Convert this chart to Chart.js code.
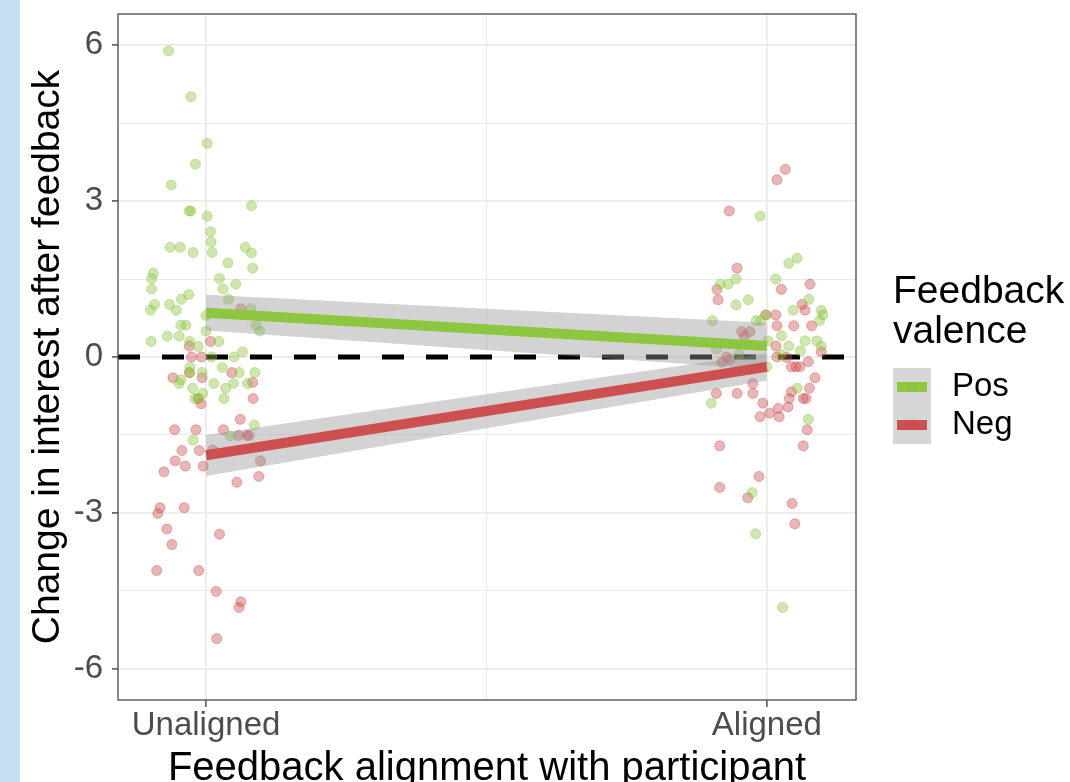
<!DOCTYPE html>
<html><head><meta charset="utf-8">
<script src="https://cdn.jsdelivr.net/npm/chart.js@4.4.1/dist/chart.umd.min.js"></script>
<style>
html,body{margin:0;padding:0;background:#fff;overflow:hidden;width:1070px;height:782px;}
#strip{position:absolute;left:0;top:0;width:20px;height:782px;background:#c5dff3;}
#c{position:absolute;left:0;top:0;}
</style></head><body>
<div id="strip"></div>
<canvas id="c" width="1070" height="782"></canvas>
<script>
// ---------- data ----------
const categories = ['Unaligned', 'Aligned'];
const seriesNames = ['Pos', 'Neg'];
const legendTitle = ['Feedback', 'valence'];
const xTitle = 'Feedback alignment with participant';
const yTitle = 'Change in interest after feedback';
const yMajorTicks = [-6, -3, 0, 3, 6];
const yMinorTicks = [-4.5, -1.5, 1.5, 4.5];
const xMinorTicks = [1.5];

// Unaligned, positive feedback
const posUnalignedY = [5.89,5.01,4.11,3.71,3.31,2.81,2.81,2.91,2.71,2.41,2.21,2.01,2.11,2.11,2.01,2.11,2.00,1.71,1.81,1.61,1.51,1.31,1.51,1.31,1.40,1.11,1.20,1.11,1.01,0.90,1.01,0.90,0.80,0.93,0.61,0.50,0.61,0.61,0.50,0.30,0.40,0.40,0.30,0.20,0.30,0.10,0.00,0.00,-0.20,-0.30,-0.30,-0.20,-0.30,-0.30,-0.51,-0.44,-0.51,-0.51,-0.51,-0.60,-0.60,-0.70,-0.80,-0.80,-0.80,-1.31,-1.52,-1.60];
const posUnalignedJitter = [-0.067,-0.027,0.002,-0.019,-0.062,-0.030,-0.027,0.081,0.002,0.008,0.009,0.011,-0.064,-0.046,-0.023,0.070,0.081,0.083,0.039,-0.094,-0.097,-0.097,0.024,0.030,0.053,0.040,-0.031,-0.044,-0.092,-0.099,-0.065,-0.053,0.000,0.080,0.089,0.096,-0.045,-0.036,0.000,-0.098,-0.069,-0.048,-0.029,-0.014,0.023,0.065,0.050,0.010,0.029,0.059,0.087,-0.029,-0.029,-0.007,-0.048,-0.045,0.014,0.049,0.074,-0.024,0.035,-0.006,-0.020,-0.014,0.032,0.086,0.043,-0.023];

// Unaligned, negative feedback
const negUnalignedY = [0.93,0.30,0.21,0.00,0.00,-0.30,-0.40,-0.40,-0.30,-0.49,-0.80,-0.80,-0.90,-1.20,-1.40,-1.40,-1.40,-1.51,-1.51,-1.51,-1.80,-1.80,-1.79,-2.00,-2.10,-2.10,-2.21,-2.00,-2.41,-2.30,-2.90,-3.01,-2.90,-3.31,-3.61,-3.41,-4.11,-4.11,-4.51,-4.71,-4.82,-5.42];
const negUnalignedJitter = [0.062,0.008,-0.030,-0.026,-0.008,-0.030,-0.059,-0.007,0.046,0.083,0.084,-0.014,-0.009,0.061,-0.056,-0.018,0.031,0.058,0.073,0.077,-0.043,-0.012,0.012,-0.055,-0.037,-0.005,-0.075,0.097,0.055,0.094,-0.082,-0.086,-0.039,-0.070,-0.061,0.024,-0.088,-0.013,0.018,0.062,0.059,0.019];

// Aligned, positive feedback
const posAlignedY = [2.71,1.80,1.90,1.50,1.40,1.40,1.50,1.00,1.10,0.70,0.70,0.70,1.11,0.90,0.90,0.81,0.70,0.41,0.31,0.31,0.21,0.31,0.21,0.81,-0.19,-0.89,-0.60,-1.20,-2.61,-3.40,-4.82,0.15,0.05,0.05,0.12];
const posAlignedJitter = [-0.012,0.039,0.054,0.016,-0.083,-0.069,-0.055,-0.055,-0.033,-0.097,-0.019,-0.011,0.075,0.047,0.097,0.100,0.094,0.026,0.068,0.089,0.097,0.002,0.039,-0.002,0.000,-0.099,0.054,0.074,-0.026,-0.020,0.028,-0.090,-0.050,0.025,0.060];

// Aligned, negative feedback
const negAlignedY = [3.61,3.41,2.81,1.71,1.30,1.10,1.30,1.40,1.01,0.90,0.81,0.81,0.60,0.60,0.60,0.49,0.49,0.40,0.21,-0.01,0.00,-0.19,-0.19,-0.19,-0.09,0.10,-0.40,-0.60,-0.67,-0.80,-0.80,-0.80,-0.96,-0.70,-0.70,-0.70,-0.51,-0.89,-1.08,-0.99,-1.15,-1.15,0.00,-0.05,-1.40,-1.71,-1.71,-2.30,-2.51,-2.71,-2.82,-3.21,-0.10];
const negAlignedJitter = [0.033,0.018,-0.067,-0.053,-0.089,-0.087,0.026,0.077,0.063,0.068,0.016,-0.002,0.018,0.048,0.080,-0.045,-0.030,-0.040,0.016,0.035,0.018,0.044,0.052,0.059,0.074,0.097,0.086,0.076,0.044,0.040,0.065,0.070,0.038,-0.090,-0.053,-0.025,-0.025,-0.007,0.005,0.020,-0.012,0.022,-0.072,-0.066,0.072,-0.084,0.065,-0.014,-0.084,-0.034,0.045,0.050,-0.080];

// linear fits with 95% band, at [Unaligned, Aligned]
const posFit = [0.85, 0.21];
const posUpper = [1.20, 0.66];
const posLower = [0.51, -0.24];
const negFit = [-1.89, -0.19];
const negUpper = [-1.50, 0.07];
const negLower = [-2.29, -0.45];

// ---------- styles ----------
const FONT = '"Liberation Sans", Arial, Helvetica, sans-serif';
const GREEN = 'rgb(141,198,63)';
const RED = 'rgb(206,79,79)';
const GREEN_PT = 'rgba(141,198,63,0.42)';
const RED_PT = 'rgba(206,79,79,0.42)';
const BAND = 'rgba(150,150,150,0.42)';
const xMin = 0.843, xMax = 2.159, yMin = -6.6, yMax = 6.6;

const catPos = categories.map((c, i) => i + 1);
const pts = (ys, jit, ci) => ys.map((y, i) => ({x: catPos[ci] + jit[i], y: y}));
const fitPts = vals => vals.map((y, i) => ({x: catPos[i], y: y}));

const pointDs = (label, data, col) => ({
  label, data, showLine: false, pointRadius: 5, pointHoverRadius: 5, pointBorderWidth: 1,
  pointBackgroundColor: col, pointBorderColor: col, order: 30, isPoint: true
});
const bandDs = (data, fill) => ({
  data, showLine: true, pointRadius: 0, borderWidth: 0, borderColor: 'rgba(0,0,0,0)',
  backgroundColor: BAND, fill: fill, order: 20, tension: 0
});

const datasets = [
  {label: seriesNames[0], data: fitPts(posFit), showLine: true, borderColor: GREEN, borderWidth: 10, pointRadius: 0, fill: false, order: 10, isFit: true, keyColor: GREEN, ptColor: GREEN_PT},
  {label: seriesNames[1], data: fitPts(negFit), showLine: true, borderColor: RED, borderWidth: 10, pointRadius: 0, fill: false, order: 11, isFit: true, keyColor: RED, ptColor: RED_PT},
  bandDs(fitPts(posUpper), false),
  bandDs(fitPts(posLower), '-1'),
  bandDs(fitPts(negUpper), false),
  bandDs(fitPts(negLower), '-1'),
  pointDs(seriesNames[0], pts(posUnalignedY, posUnalignedJitter, 0), GREEN_PT),
  pointDs(seriesNames[0], pts(posAlignedY, posAlignedJitter, 1), GREEN_PT),
  pointDs(seriesNames[1], pts(negUnalignedY, negUnalignedJitter, 0), RED_PT),
  pointDs(seriesNames[1], pts(negAlignedY, negAlignedJitter, 1), RED_PT),
  {data: [{x: xMin, y: 0}, {x: xMax, y: 0}], showLine: true, borderColor: '#000', borderWidth: 5, borderDash: [22, 22], pointRadius: 0, fill: false, order: 40}
];

const panelBorder = {
  id: 'panelBorder',
  afterDatasetsDraw(chart) {
    const {ctx, chartArea: a} = chart;
    ctx.save();
    ctx.strokeStyle = '#4a4a4a';
    ctx.lineWidth = 1.3;
    ctx.strokeRect(a.left, a.top, a.right - a.left, a.bottom - a.top);
    ctx.restore();
  }
};

const ggLegend = {
  id: 'ggLegend',
  afterDraw(chart) {
    const {ctx, chartArea: a} = chart;
    const cy = (a.top + a.bottom) / 2;
    const x0 = a.right + 37;
    ctx.save();
    ctx.fillStyle = '#000';
    ctx.font = '39px ' + FONT;
    ctx.textAlign = 'left';
    ctx.textBaseline = 'alphabetic';
    legendTitle.forEach((t, i) => ctx.fillText(t, x0, cy - 54 + i * 40));
    const fits = chart.data.datasets.filter(d => d.isFit);
    const key = 38, top = cy + 11;
    fits.forEach((d, i) => {
      const ky = top + i * key;
      ctx.fillStyle = '#d6d6d6';
      ctx.fillRect(x0, ky, key, key);
      ctx.strokeStyle = d.keyColor;
      ctx.lineWidth = 10;
      ctx.beginPath();
      ctx.moveTo(x0 + 4, ky + key / 2);
      ctx.lineTo(x0 + key - 4, ky + key / 2);
      ctx.stroke();
      ctx.fillStyle = d.ptColor;
      ctx.beginPath();
      ctx.arc(x0 + key / 2, ky + key / 2, 5.5, 0, Math.PI * 2);
      ctx.fill();
      ctx.fillStyle = '#000';
      ctx.font = '33px ' + FONT;
      ctx.textBaseline = 'middle';
      ctx.fillText(d.label, x0 + 59, ky + key / 2);
    });
    ctx.restore();
  }
};

const isIn = (arr, v) => arr.some(t => Math.abs(t - v) < 1e-9);

new Chart(document.getElementById('c'), {
  type: 'line',
  data: {datasets},
  options: {
    responsive: false,
    animation: false,
    events: [],
    devicePixelRatio: 1,
    layout: {padding: {left: 0, right: 214, top: 14, bottom: 0}},
    plugins: {legend: {display: false}, tooltip: {enabled: false}},
    scales: {
      x: {
        type: 'linear', min: xMin, max: xMax,
        afterBuildTicks: s => { s.ticks = catPos.concat(xMinorTicks).sort((a, b) => a - b).map(v => ({value: v})); },
        afterFit: s => { s.height = 82; s.paddingLeft = 0; s.paddingRight = 0; },
        ticks: {
          autoSkip: false, maxRotation: 0, padding: 2, color: '#4D4D4D',
          font: {family: FONT, size: 33, lineHeight: 1},
          callback: v => { const i = catPos.indexOf(v); return i >= 0 ? categories[i] : ''; }
        },
        grid: {
          color: '#EBEBEB',
          lineWidth: c => (c.tick && isIn(xMinorTicks, c.tick.value)) ? 1 : 1.8,
          tickLength: 7, tickWidth: 1.3,
          tickColor: c => (c.tick && isIn(xMinorTicks, c.tick.value)) ? 'rgba(0,0,0,0)' : '#333'
        },
        border: {display: false},
        title: {display: true, text: xTitle, color: '#000', font: {family: FONT, size: 40, lineHeight: 1.2}, padding: {top: 0, bottom: -11}}
      },
      y: {
        type: 'linear', min: yMin, max: yMax,
        afterBuildTicks: s => { s.ticks = yMajorTicks.concat(yMinorTicks).sort((a, b) => a - b).map(v => ({value: v})); },
        afterFit: s => { s.width = 118; s.paddingTop = 0; s.paddingBottom = 0; },
        ticks: {
          autoSkip: false, padding: 9, color: '#4D4D4D',
          font: {family: FONT, size: 33, lineHeight: 1},
          callback: v => isIn(yMajorTicks, v) ? String(v) : ''
        },
        grid: {
          color: '#EBEBEB',
          lineWidth: c => (c.tick && isIn(yMinorTicks, c.tick.value)) ? 1 : 1.8,
          tickLength: 6, tickWidth: 1.3,
          tickColor: c => (c.tick && isIn(yMinorTicks, c.tick.value)) ? 'rgba(0,0,0,0)' : '#333'
        },
        border: {display: false},
        title: {display: true, text: yTitle, color: '#000', font: {family: FONT, size: 39, lineHeight: 1.2}, padding: {top: 25, bottom: 0}}
      }
    }
  },
  plugins: [panelBorder, ggLegend]
});
</script>
</body></html>
